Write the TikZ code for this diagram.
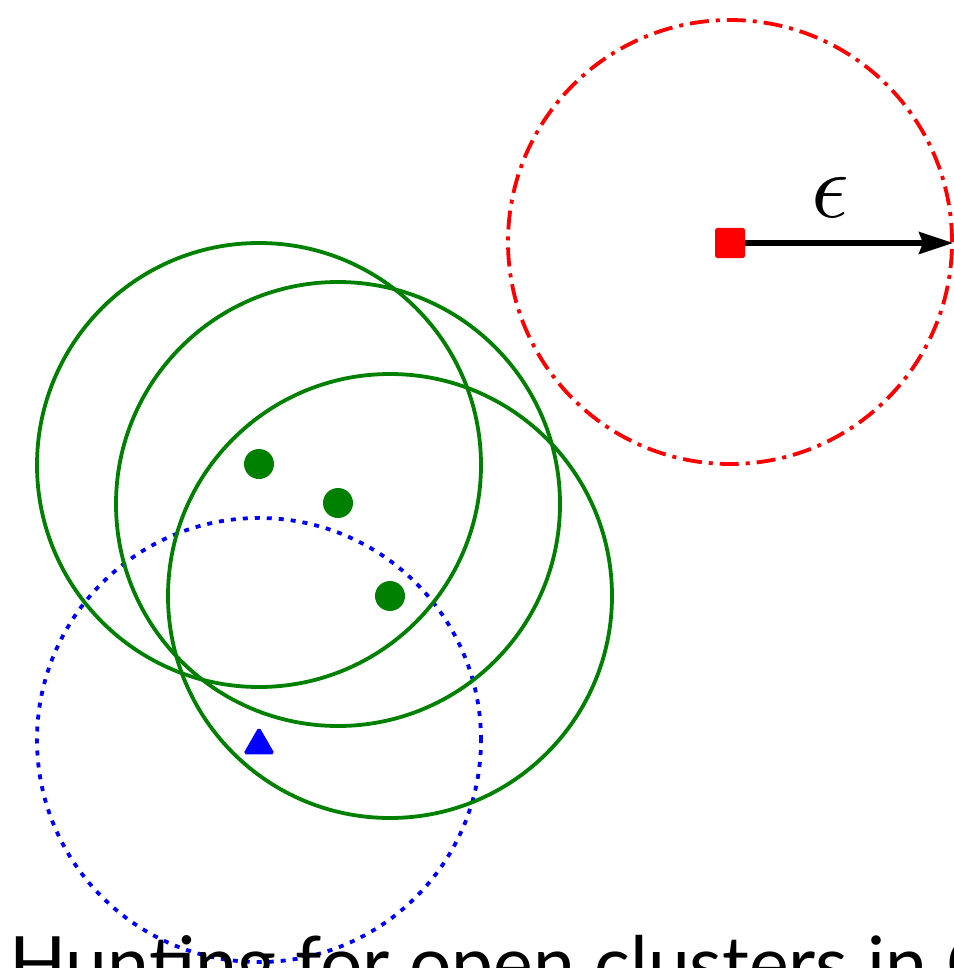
\documentclass[tikz,border=0pt]{standalone}
\usepackage{fontspec}
\newfontfamily\titlefont{Lato}
\usetikzlibrary{arrows.meta,shapes.geometric}
\definecolor{cgreen}{RGB}{0,128,0}
\definecolor{cred}{RGB}{255,0,0}
\definecolor{cblue}{RGB}{0,0,255}
\tikzset{
  zone/.style={circle, inner sep=0pt, minimum size=444pt, line width=3.8pt},
  greenzone/.style={zone, draw=cgreen},
  redzone/.style={zone, draw=cred, dash pattern=on 19pt off 7pt on 4pt off 7pt},
  bluezone/.style={zone, draw=cblue, line cap=butt, dash pattern=on 5pt off 7pt},
  star/.style={circle, fill=cgreen, inner sep=0pt, minimum size=30pt},
  noise/.style={regular polygon, regular polygon sides=3, fill=cblue, draw=cblue, line width=2pt, rounded corners=1.5pt, inner sep=0pt, minimum size=33pt},
  probe/.style={rectangle, fill=cred, draw=cred, line width=1pt, rounded corners=1.5pt, inner sep=0pt, minimum size=29pt},
  radius/.style={line width=5pt, -{Stealth[length=34pt, width=22pt, inset=4pt]}},
}
\begin{document}
\begin{tikzpicture}[x=1pt, y=-1pt]
\useasboundingbox (0,0) rectangle (953,968);
\node[bluezone] (b) at (259,740) {};
\node[greenzone] (g1) at (259,465) {};
\node[greenzone] (g2) at (338,504) {};
\node[greenzone] (g3) at (390,596) {};
\node[redzone] (r) at (730,242) {};
\node[star] (s1) at (259,464) {};
\node[star] (s2) at (338,503) {};
\node[star] (s3) at (390,596) {};
\node[noise] (t) at (259,745) {};
\node[probe] (sq) at (730,243) {};
\coordinate (tip) at (953,243);
\draw[radius] (sq.east) -- (tip);
\node[inner sep=0pt] (eps) at (830,197) {\scalebox{9.3}{$\epsilon$}};
\node[anchor=base west, inner sep=0pt] (title) at (9,990) {\titlefont\fontsize{75}{75}\selectfont Hunting for open clusters in G};
\end{tikzpicture}
\end{document}
